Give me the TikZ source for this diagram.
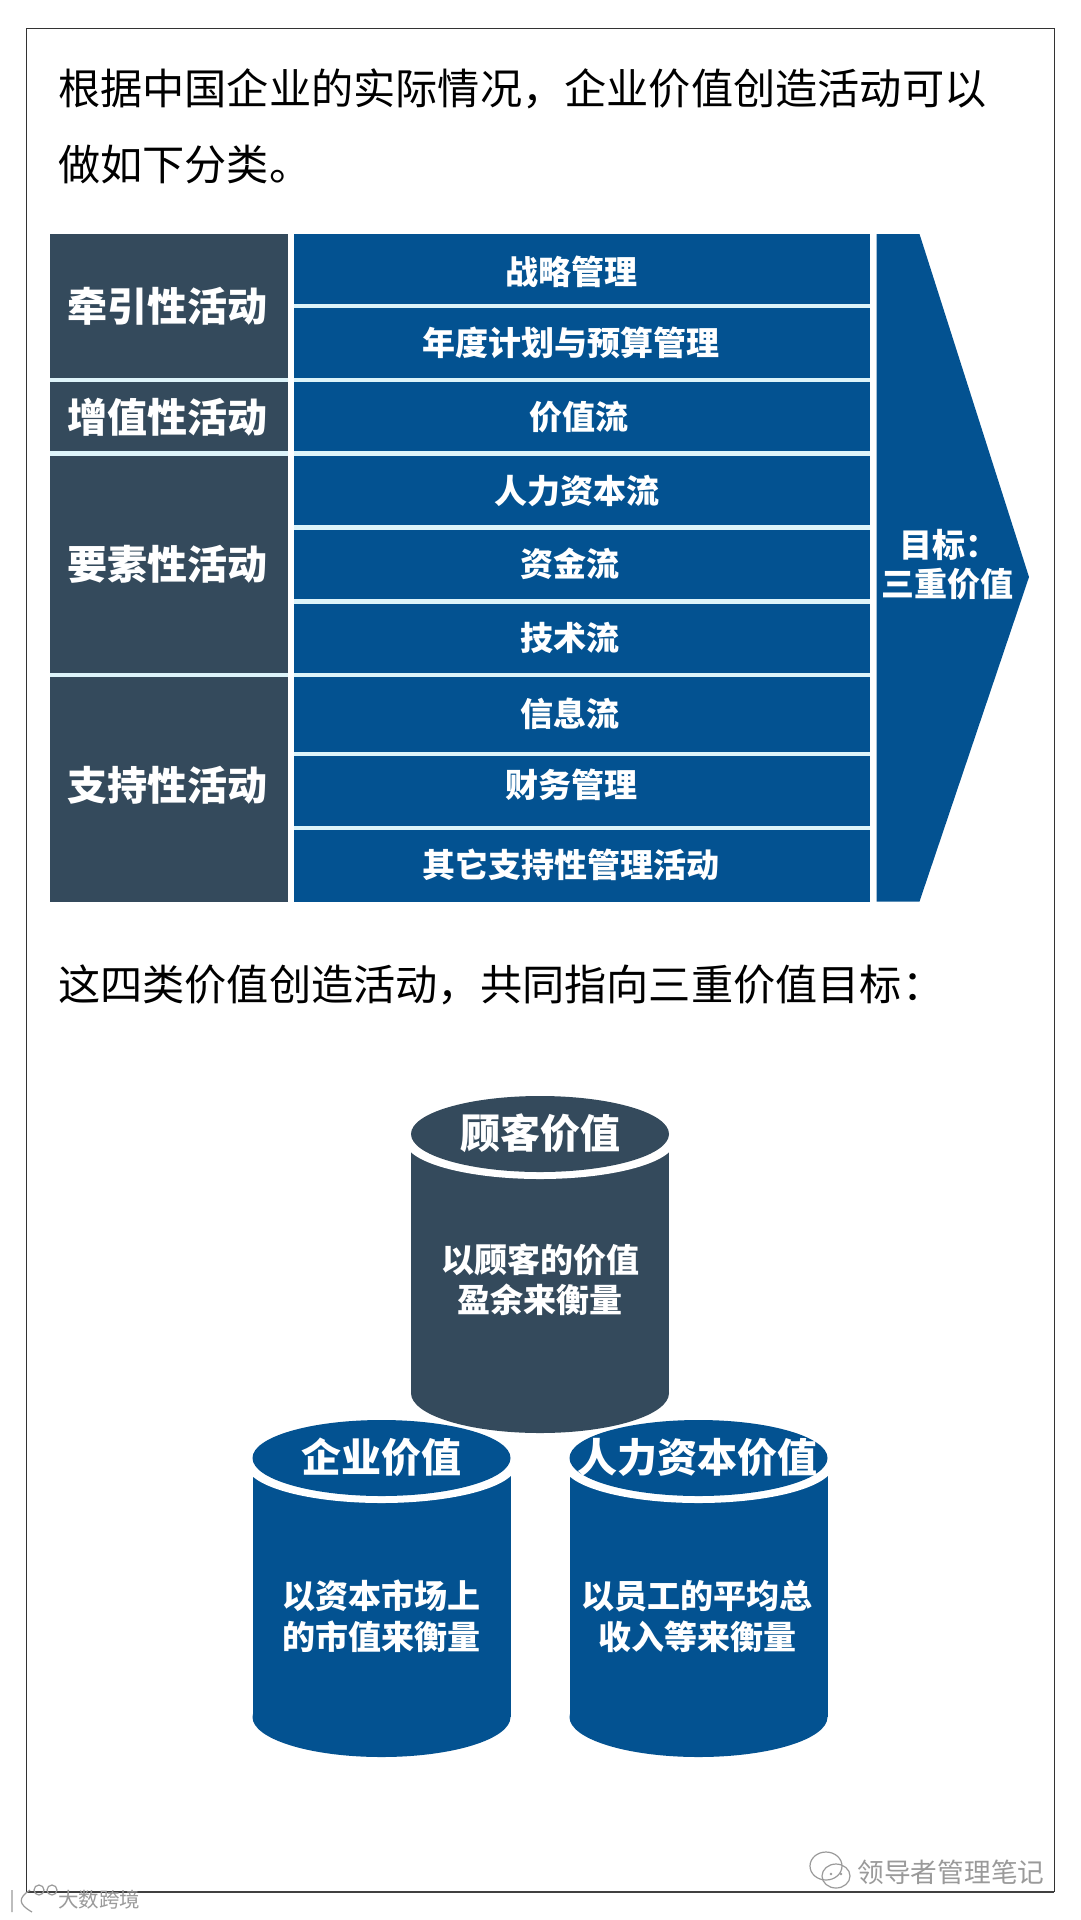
\documentclass[tikz,border=0pt]{standalone}
\usepackage{fontspec}
\setmainfont{Noto Sans CJK SC}
\newcommand{\fsz}[1]{\fontsize{#1}{#1}\selectfont}
\definecolor{dk}{HTML}{344A5C}
\definecolor{bl}{HTML}{035291}
\definecolor{sepc}{HTML}{DDF4FA}
\definecolor{wm}{HTML}{9A9A9A}
\tikzset{
  headtxt/.style={anchor=west,inner sep=0pt,text=black,font=\fsz{42.2}},
  leftlab/.style={inner sep=0pt,text=white,font=\fsz{40}\bfseries},
  rowlab/.style={inner sep=0pt,text=white,font=\fsz{33}\bfseries},
  cyltitle/.style={inner sep=0pt,text=white,font=\fsz{40}\bfseries},
  cyltxt/.style={inner sep=0pt,text=white,font=\fsz{33}\bfseries},
  sepline/.style={draw=sepc,line width=4.5pt},
  wmtxt/.style={inner sep=0pt,text=wm,font=\fsz{26.7}},
  wmline/.style={draw=wm,line width=1.2pt}
}
% cx, top of the ellipse, colour
\newcommand{\cylshape}[3]{%
  \fill[#3] (#1-129,#2+38) rectangle (#1+129,#2+297);
  \fill[#3] (#1,#2+297) ellipse [x radius=129,y radius=40];
  \fill[white] (#1,#2+45) ellipse [x radius=135,y radius=38];
  \fill[#3] (#1,#2+38) ellipse [x radius=129,y radius=38];
}
\begin{document}
\begin{tikzpicture}[x=1pt,y=-1pt]
\useasboundingbox (0,0) rectangle (1080,1920);
\fill[white] (0,0) rectangle (1080,1920);
% frame
\draw[draw=black!80,line width=1pt] (26.3,28) -- (1054,28) -- (1054,1892);
\draw[draw=black!80,line width=1pt] (26.3,28) -- (26.3,1892);
\draw[draw=black!75,line width=1.8pt] (26.3,1892) -- (1054,1892);
% headings
\node[headtxt] (h1) at (58,89) {根据中国企业的实际情况，企业价值创造活动可以};
\node[headtxt] (h2) at (58,165) {做如下分类。};
\node[headtxt] (h3) at (58,985) {这四类价值创造活动，共同指向三重价值目标：};
% table
\fill[dk] (50.3,234) rectangle (287.5,901.5);
\fill[bl] (293.5,234) rectangle (870,901.5);
\fill[bl] (876.5,234) -- (919.5,234) -- (1029,577) -- (919.5,901.5) -- (876.5,901.5) -- cycle;
\foreach \yy in {380,453.7,675}{\draw[sepline] (50.3,\yy) -- (287.5,\yy);}
\foreach \yy in {306,380,453.7,527.7,601.7,675,754,828}{\draw[sepline] (293.5,\yy) -- (870,\yy);}
\node[leftlab] (l1) at (167,306) {牵引性活动};
\node[leftlab] (l2) at (167,417) {增值性活动};
\node[leftlab] (l3) at (167,564) {要素性活动};
\node[leftlab] (l4) at (167,785) {支持性活动};
\node[rowlab] (r1) at (571,272) {战略管理};
\node[rowlab] (r2) at (571,343) {年度计划与预算管理};
\node[rowlab] (r3) at (579,417) {价值流};
\node[rowlab] (r4) at (577,491) {人力资本流};
\node[rowlab] (r5) at (570,564) {资金流};
\node[rowlab] (r6) at (570,638) {技术流};
\node[rowlab] (r7) at (570,714) {信息流};
\node[rowlab] (r8) at (571,785) {财务管理};
\node[rowlab] (r9) at (571,865) {其它支持性管理活动};
\node[rowlab,anchor=west] (g1) at (899,545) {目标：};
\node[rowlab] (g2) at (947,584) {三重价值};
% cylinders
\cylshape{540}{1096}{dk}
\cylshape{381.5}{1420}{bl}
\cylshape{698.5}{1420}{bl}
\node[cyltitle] (c1) at (540,1133) {顾客价值};
\node[cyltitle] (c2) at (381,1457) {企业价值};
\node[cyltitle] (c3) at (697,1457) {人力资本价值};
\node[cyltxt] (t1a) at (540,1260) {以顾客的价值};
\node[cyltxt] (t1b) at (540,1300) {盈余来衡量};
\node[cyltxt] (t2a) at (381,1596) {以资本市场上};
\node[cyltxt] (t2b) at (381,1637) {的市值来衡量};
\node[cyltxt] (t3a) at (697,1596) {以员工的平均总};
\node[cyltxt] (t3b) at (697,1637) {收入等来衡量};
% watermarks
\node[wmtxt] (w1) at (951,1872) {领导者管理笔记};
\draw[wmline] (826,1866) ellipse [x radius=16,y radius=14];
\draw[wmline] (836,1876) ellipse [x radius=14,y radius=12];
\fill[wm] (831,1874) circle (1.3) (841,1874) circle (1.3);
\node[wmtxt,font=\fsz{20.5}] (w2) at (99,1900) {大数跨境};
\draw[wmline] (12,1890) -- (12,1912) (30,1890) .. controls (18,1898) and (18,1904) .. (32,1912);
\draw[wmline] (39,1890) circle (5) (52,1890) circle (5);
\end{tikzpicture}
\end{document}
